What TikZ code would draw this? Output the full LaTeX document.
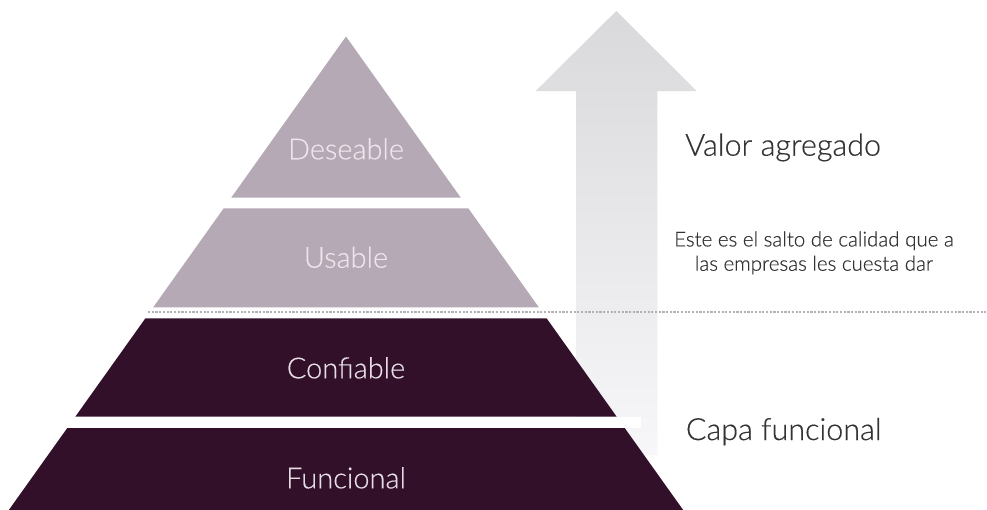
\documentclass[tikz,border=0pt]{standalone}
\usepackage{fontspec}
\setmainfont{Lato}[UprightFont=* Light, FakeBold=0.4]
\definecolor{bandlight}{HTML}{B4A9B5}
\definecolor{banddark}{HTML}{32102A}
\definecolor{txtlight}{HTML}{EEE4EC}
\definecolor{txtdark}{HTML}{E6DCE4}
\definecolor{txtgray}{HTML}{333333}
\definecolor{arrowtop}{HTML}{D9D9DC}
\definecolor{arrowbot}{HTML}{F7F7F9}
\definecolor{dotc}{HTML}{B3B1B6}
\begin{document}
\begin{tikzpicture}[x=1pt,y=-1pt,
  lightband/.style={fill=bandlight},
  darkband/.style={fill=banddark},
  pyrlbl/.style={font=\fontsize{29}{34}\selectfont, anchor=base, inner sep=0pt},
  sidelbl/.style={font=\fontsize{30.5}{36}\selectfont, anchor=base west, inner sep=0pt, text=txtgray},
  smalllbl/.style={font=\fontsize{20.5}{24.3}\selectfont, align=center, inner sep=0pt, text=txtgray},
  dotline/.style={draw=dotc, line width=2.3pt, dash pattern=on 2.2pt off 1.5pt}]
\useasboundingbox (0,0) rectangle (987,509);
\fill[white] (0,0) rectangle (987,509);
\begin{scope}
\clip (0,0) rectangle (987,509);
% arrow
\shade[top color=arrowtop, bottom color=arrowbot]
  (616.3,11) -- (696.7,91) -- (657.3,91) -- (657.3,455) -- (576,455) -- (576,91) -- (535.7,91) -- cycle;
% pyramid
\fill[lightband] (346,36.5) -- (460.8,197.7) -- (231.2,197.7) -- cycle;
\fill[lightband] (223.7,208.3) -- (468.3,208.3) -- (538.8,307.3) -- (153.2,307.3) -- cycle;
\fill[darkband] (145.4,318.3) -- (546.6,318.3) -- (616.7,416.7) -- (75.3,416.7) -- cycle;
\fill[darkband] (67.5,427.7) -- (624.5,427.7) -- (690.3,520) -- (1.7,520) -- cycle;
\fill[white] (60,416.7) rectangle (641,427.7);
\draw[dotline] (148,312.3) -- (990,312.3);
\end{scope}
% labels
\node[pyrlbl, text=txtlight] (deseable) at (346,159.3) {Deseable};
\node[pyrlbl, text=txtlight] (usable) at (346,267.7) {Usable};
\node[pyrlbl, text=txtdark] (confiable) at (346,378.3) {Confiable};
\node[pyrlbl, text=txtdark] (funcional) at (346,488.3) {Funcional};
\node[sidelbl] (valor) at (685,155.7) {Valor agregado};
\node[sidelbl] (capa) at (685.7,440) {Capa funcional};
\node[smalllbl, anchor=base] (salto) at (814,270.7) {Este es el salto de calidad que a\\las empresas les cuesta dar};
\end{tikzpicture}
\end{document}
